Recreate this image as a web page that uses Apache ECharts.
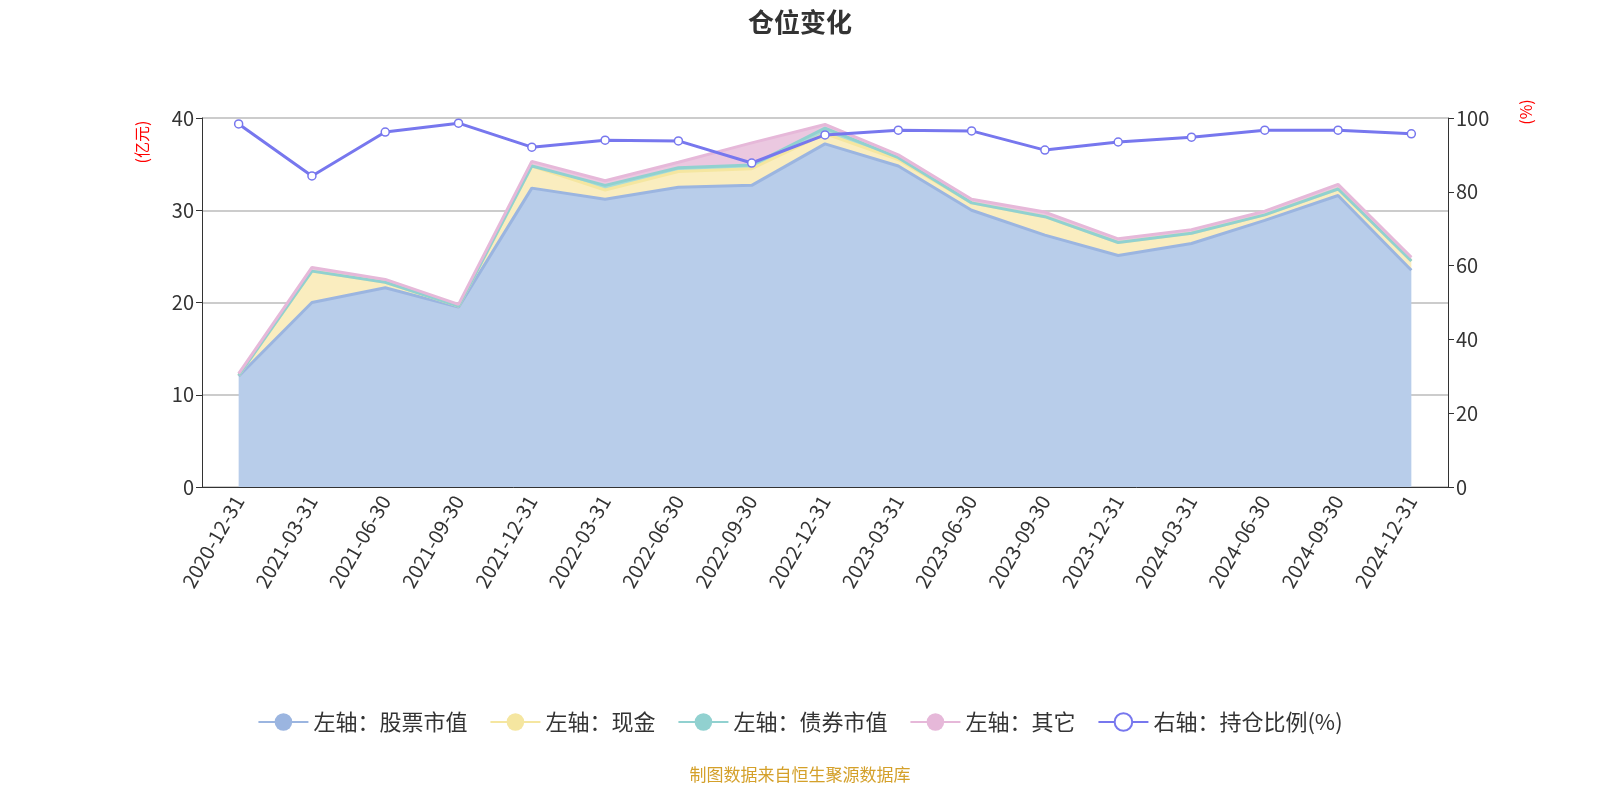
<!DOCTYPE html><html><head><meta charset="utf-8"><script src="https://cdn.jsdelivr.net/npm/echarts@6/dist/echarts.min.js"></script></head><body style="margin:0;overflow:hidden"><div id="c" style="width:1600px;height:800px"></div><script>
const dates=['2020-12-31','2021-03-31','2021-06-30','2021-09-30','2021-12-31','2022-03-31','2022-06-30','2022-09-30','2022-12-31','2023-03-31','2023-06-30','2023-09-30','2023-12-31','2024-03-31','2024-06-30','2024-09-30','2024-12-31'];
const stock=[12,20,21.6,19.5,32.4,31.2,32.5,32.7,37.2,34.8,30,27.3,25.1,26.4,28.9,31.6,23.5];
const cash=[0.1,3.4,0.6,0.1,2.4,1.0,1.7,1.8,1.1,0.7,0.8,2.0,1.4,1.1,0.6,0.7,1.0];
const bond=[0,0,0,0,0,0.5,0.4,0.4,0.6,0.2,0,0,0,0,0,0,0];
const other=[0.2,0.4,0.3,0.2,0.5,0.5,0.6,2.4,0.4,0.3,0.4,0.5,0.4,0.4,0.4,0.5,0.4];
const ratio=[98.4,84.3,96.2,98.6,92.1,94,93.8,87.8,95.4,96.7,96.5,91.3,93.5,94.8,96.7,96.7,95.7];
const ff='"Noto Sans CJK SC", sans-serif';
function area(name,data,line,fill){return {name,type:'line',stack:'a',data,symbol:'circle',symbolSize:22,showSymbol:false,lineStyle:{color:line,width:3},itemStyle:{color:line},areaStyle:{color:fill,opacity:1}};}
const ch=echarts.init(document.getElementById('c'));
ch.setOption({textStyle:{fontFamily:ff},
title:{text:'仓位变化',left:'center',top:4,textStyle:{fontSize:26,fontWeight:'bold',color:'#333'}},
grid:{left:202,right:152,top:118,bottom:313},
legend:{bottom:62,itemWidth:50,itemHeight:22,itemGap:22,textStyle:{fontSize:22,color:'#333'},data:['左轴：股票市值','左轴：现金','左轴：债券市值','左轴：其它','右轴：持仓比例(%)']},
graphic:[
{type:'text',x:800,y:775,style:{text:'制图数据来自恒生聚源数据库',fill:'#d4a02a',fontSize:17,align:'center',verticalAlign:'middle',fontFamily:ff}},
{type:'text',x:142,y:142,rotation:Math.PI/2,style:{text:'(亿元)',fill:'red',fontSize:16,align:'center',verticalAlign:'middle',fontFamily:ff}},
{type:'text',x:1526,y:112,rotation:Math.PI/2,style:{text:'(%)',fill:'red',fontSize:16,align:'center',verticalAlign:'middle',fontFamily:ff}}],
xAxis:{type:'category',data:dates,boundaryGap:true,axisLine:{lineStyle:{color:'#333'}},axisTick:{length:6,lineStyle:{color:'#333'}},axisLabel:{rotate:60,fontSize:20,color:'#333',margin:10}},
yAxis:[{type:'value',min:0,max:40,interval:10,axisLine:{show:true,lineStyle:{color:'#333'}},axisTick:{show:true,length:6},axisLabel:{fontSize:20,color:'#333'},splitLine:{lineStyle:{color:'#bbb',width:1.5}}},
{type:'value',min:0,max:100,interval:20,axisLine:{show:true,lineStyle:{color:'#333'}},axisTick:{show:true,length:6},axisLabel:{fontSize:20,color:'#333'},splitLine:{show:false}}],
series:[area('左轴：股票市值',stock,'#9bb5e0','#b8cdea'),area('左轴：现金',cash,'#f5e6a0','#faedbf'),area('左轴：债券市值',bond,'#91d1d0','#a8dcd8'),area('左轴：其它',other,'#e6b8d9','#ebc8e0'),
{name:'右轴：持仓比例(%)',type:'line',yAxisIndex:1,data:ratio,symbol:'circle',symbolSize:8,itemStyle:{color:'#fff',borderColor:'#7777ee',borderWidth:1.5},lineStyle:{color:'#7777ee',width:3},z:5}]
});
</script></body></html>
